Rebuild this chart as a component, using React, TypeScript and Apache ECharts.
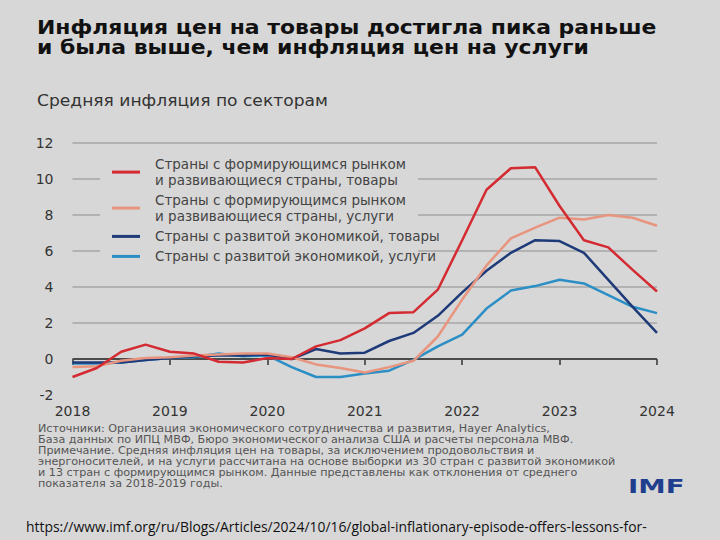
import React, { useEffect, useRef } from "react";
import * as echarts from "echarts";

const quarters = [
  "2018Q1", "2018Q2", "2018Q3", "2018Q4",
  "2019Q1", "2019Q2", "2019Q3", "2019Q4",
  "2020Q1", "2020Q2", "2020Q3", "2020Q4",
  "2021Q1", "2021Q2", "2021Q3", "2021Q4",
  "2022Q1", "2022Q2", "2022Q3", "2022Q4",
  "2023Q1", "2023Q2", "2023Q3", "2023Q4",
  "2024Q1",
];

const emdeGoods = [-1.0, -0.5, 0.4, 0.8, 0.4, 0.3, -0.15, -0.2, 0.05, 0.0, 0.7, 1.05, 1.7, 2.55, 2.6, 3.85, 6.6, 9.4, 10.6, 10.65, 8.5, 6.6, 6.2, 4.95, 3.75];
const emdeServices = [-0.45, -0.4, -0.1, 0.05, 0.1, 0.2, 0.25, 0.3, 0.3, 0.1, -0.3, -0.5, -0.75, -0.45, -0.1, 1.25, 3.3, 5.2, 6.7, 7.3, 7.85, 7.75, 8.0, 7.85, 7.4];
const aeGoods = [-0.2, -0.2, -0.2, -0.05, 0.05, 0.15, 0.2, 0.2, 0.25, 0.0, 0.55, 0.3, 0.35, 1.0, 1.45, 2.4, 3.7, 4.9, 5.9, 6.6, 6.55, 5.9, 4.4, 2.9, 1.45];
const aeServices = [-0.25, -0.25, -0.2, -0.05, 0.05, 0.1, 0.3, 0.15, 0.2, -0.45, -1.0, -1.0, -0.8, -0.65, -0.05, 0.7, 1.35, 2.8, 3.8, 4.05, 4.4, 4.2, 3.55, 2.9, 2.55];

const seriesNames = [
  "Страны с формирующимся рынком\nи развивающиеся страны, товары",
  "Страны с формирующимся рынком\nи развивающиеся страны, услуги",
  "Страны с развитой экономикой, товары",
  "Страны с развитой экономикой, услуги",
];
const seriesColors = ["#d42a31", "#e8957f", "#1e3a78", "#2b8fc6"];
const seriesData = [emdeGoods, emdeServices, aeGoods, aeServices];
const seriesZ = [6, 5, 4, 3];
const legendTops = [157.2, 193.2, 229.4, 249.4];

const titleLines = [
  "Инфляция цен на товары достигла пика раньше",
  "и была выше, чем инфляция цен на услуги",
];
const subtitle = "Средняя инфляция по секторам";
const noteLines = [
  "Источники: Организация экономического сотрудничества и развития, Hayer Analytics,",
  "База данных по ИПЦ МВФ, Бюро экономического анализа США и расчеты персонала МВФ.",
  "Примечание. Средняя инфляция цен на товары, за исключением продовольствия и",
  "энергоносителей, и на услуги рассчитана на основе выборки из 30 стран с развитой экономикой",
  "и 13 стран с формирующимся рынком. Данные представлены как отклонения от среднего",
  "показателя за 2018-2019 годы.",
];
const urlLines = [
  "https://www.imf.org/ru/Blogs/Articles/2024/10/16/global-inflationary-episode-offers-lessons-for-",
  "monetary-policy",
];

const BG = "#d7d7d7";
const FONT = '"DejaVu Sans", sans-serif';

function txt(
  text: string,
  x: number,
  y: number,
  font: string,
  fill: string,
  extra: any = {},
  styleExtra: any = {}
) {
  return {
    type: "text",
    x,
    y,
    ...extra,
    style: {
      text,
      font,
      fill,
      align: "left",
      verticalAlign: "middle",
      textAlign: "left",
      textVerticalAlign: "middle",
      ...styleExtra,
    },
  };
}

export default function App() {
  const ref = useRef<HTMLDivElement>(null);

  useEffect(() => {
    const chart = echarts.init(ref.current!, null, { renderer: "svg" });

    const option: any = {
      animation: false,
      backgroundColor: BG,
      grid: { left: 72.5, right: 63, top: 143, bottom: 145 },
      xAxis: {
        type: "category",
        data: quarters,
        boundaryGap: false,
        axisLine: { show: false },
        axisTick: {
          show: true,
          interval: 3,
          length: 6,
          lineStyle: { color: "#333", width: 1.5 },
        },
        axisLabel: {
          interval: 3,
          margin: 9,
          fontFamily: FONT,
          fontSize: 14,
          color: "#333",
          formatter: (v: string) => v.slice(0, 4),
        },
        splitLine: { show: false },
      },
      yAxis: {
        type: "value",
        min: -2,
        max: 12,
        interval: 2,
        axisLine: { show: false },
        axisTick: { show: false },
        axisLabel: {
          margin: 19,
          fontFamily: FONT,
          fontSize: 14,
          color: "#333",
        },
        splitLine: {
          show: true,
          lineStyle: {
            color: [
              "rgba(0,0,0,0)",
              "rgba(0,0,0,0)",
              "#a6a6a6",
              "#a6a6a6",
              "#a6a6a6",
              "#a6a6a6",
              "#a6a6a6",
              "#a6a6a6",
            ],
            width: 1.5,
          },
        },
      },
      legend: seriesNames.map((name, i) => ({
        data: [name],
        left: 112,
        top: legendTops[i],
        orient: "vertical",
        padding: 0,
        icon: "rect",
        itemWidth: 28,
        itemHeight: 3,
        selectedMode: false,
        formatter: (n: string) =>
          n
            .split("\n")
            .map((l) => `{t|${l}}`)
            .join("\n"),
        textStyle: {
          rich: {
            t: {
              fontFamily: FONT,
              fontSize: 13.5,
              color: "#444",
              lineHeight: 15.8,
              padding: [0, 0, 0, 10],
            },
          },
        },
      })),
      graphic: {
        elements: [
          {
            type: "rect",
            z: 3,
            shape: { x: 100, y: 151, width: 318, height: 120 },
            style: { fill: BG },
            silent: true,
          },
          txt(titleLines[0], 37, 28, `bold 19px ${FONT}`, "#111", { scaleX: 1.155 }),
          txt(titleLines[1], 37, 48, `bold 19px ${FONT}`, "#111", { scaleX: 1.155 }),
          txt(subtitle, 37, 101, `16px ${FONT}`, "#333", { scaleX: 1.07 }),
          txt(
            noteLines.join("\n"),
            38,
            423.5,
            `10.5px ${FONT}`,
            "#555",
            { scaleX: 1.065 },
            { lineHeight: 11, verticalAlign: "top", textVerticalAlign: "top" }
          ),
          txt("IMF", 628, 487, `bold 19px ${FONT}`, "#1f3e8e", { scaleX: 1.45 }),
          txt(
            urlLines.join("\n"),
            26,
            517,
            `13.9px "Open Sans", sans-serif`,
            "#111",
            {},
            { lineHeight: 19, verticalAlign: "top", textVerticalAlign: "top" }
          ),
        ],
      },
      series: seriesNames.map((name, i) => ({
        name,
        type: "line",
        data: seriesData[i],
        symbol: "none",
        z: seriesZ[i],
        color: seriesColors[i],
        lineStyle: { width: 2.5, color: seriesColors[i] },
        ...(i === 3
          ? {
              markLine: {
                silent: true,
                symbol: "none",
                label: { show: false },
                lineStyle: { color: "#4a4a4a", width: 2, type: "solid" },
                data: [{ yAxis: 0 }],
                z: 1,
              },
            }
          : {}),
      })),
    };

    chart.setOption(option);
    return () => chart.dispose();
  }, []);

  return (
    <div
      ref={ref}
      style={{ position: "fixed", left: 0, top: 0, width: 720, height: 540 }}
    />
  );
}
